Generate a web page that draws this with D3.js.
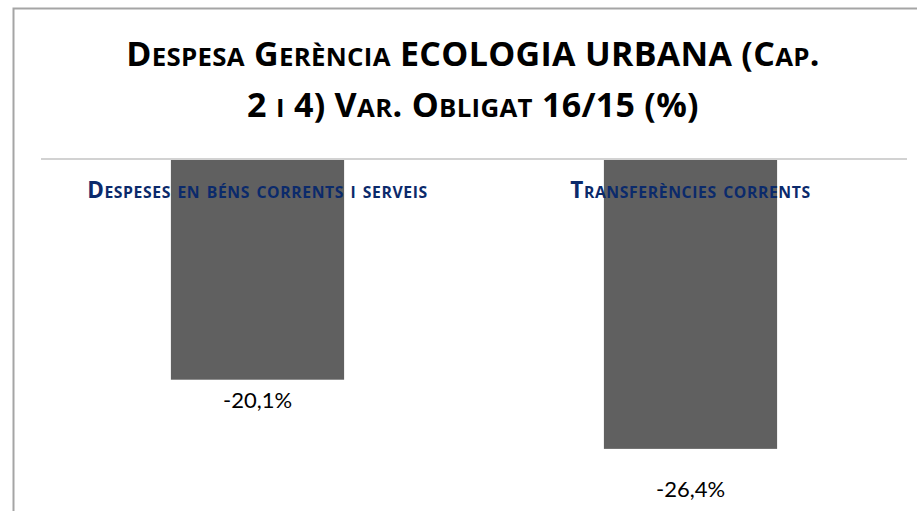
<!DOCTYPE html>
<html>
<head>
<meta charset="utf-8">
<script src="https://cdn.jsdelivr.net/npm/d3@7"></script>
<style>
  html, body { margin: 0; padding: 0; background: #ffffff; }
  svg { display: block; }
</style>
</head>
<body>
<svg id="chart" width="917" height="511"></svg>
<script>
// Chart content
const titleLines = [
  "Despesa Gerència ECOLOGIA URBANA (Cap.",
  "2 i 4) Var. Obligat 16/15 (%)"
];
const categories = ["Despeses en béns corrents i serveis", "Transferències corrents"];
const values = [-20.1, -26.4];
const valueLabels = ["-20,1%", "-26,4%"];

const W = 917, H = 511;
const svg = d3.select("#chart");
const FONT = "Lato, 'Open Sans', sans-serif";
const FONT_BOLD = "'Open Sans', Lato, sans-serif";

// Plot area
const plot = { left: 41, right: 907, top: 159, bottom: 488.4 };

const x = d3.scaleBand()
  .domain(categories)
  .range([plot.left, plot.right])
  .padding(0);

const y = d3.scaleLinear()
  .domain([0, -30])
  .range([plot.top, plot.bottom]);

const barW = x.bandwidth() * 0.4;

// Writes a string as small caps: capitals and digits at full size,
// lowercase letters as capitals at a reduced size.
function smallCaps(textSel, str, big, ratio) {
  const runs = [];
  for (const ch of str) {
    const small = ch !== ch.toUpperCase();
    const last = runs[runs.length - 1];
    if (last && last.small === small) last.text += ch;
    else runs.push({ small, text: ch });
  }
  runs.forEach(r => {
    textSel.append("tspan")
      .attr("font-size", r.small ? big * ratio : big)
      .text(r.text.toUpperCase());
  });
}

// Chart frame
svg.append("path")
  .attr("d", `M13.5,${H + 5} L13.5,8.5 L${W + 5},8.5`)
  .attr("fill", "none")
  .attr("stroke", "#a5a5a5")
  .attr("stroke-width", 2);

// Title
const titleY = [66, 117];
titleLines.forEach((line, i) => {
  const t = svg.append("text")
    .attr("x", 473)
    .attr("y", titleY[i])
    .attr("text-anchor", "middle")
    .attr("font-family", FONT_BOLD)
    .attr("font-weight", "bold")
    .attr("letter-spacing", 0.3)
    .attr("fill", "#000000");
  smallCaps(t, line, 34, 0.76);
});

// Bars
svg.append("g")
  .selectAll("rect")
  .data(values)
  .join("rect")
  .attr("x", (d, i) => x(categories[i]) + (x.bandwidth() - barW) / 2)
  .attr("y", d => y(0) + 1)
  .attr("width", barW)
  .attr("height", d => y(d) - y(0) - 1)
  .attr("fill", "#606060");

// Zero line
svg.append("line")
  .attr("x1", plot.left)
  .attr("x2", plot.right)
  .attr("y1", y(0))
  .attr("y2", y(0))
  .attr("stroke", "#a6a6a6")
  .attr("stroke-width", 1.2);

// Category labels just under the zero line
categories.forEach(c => {
  const t = svg.append("text")
    .attr("x", x(c) + x.bandwidth() / 2)
    .attr("y", y(0) + 39)
    .attr("text-anchor", "middle")
    .attr("font-family", FONT_BOLD)
    .attr("font-weight", "bold")
    .attr("letter-spacing", 0.6)
    .attr("fill", "#0b2a6b");
  smallCaps(t, c, 22.5, 0.7);
});

// Value labels below each bar
const labelGap = [28, 48];
svg.append("g")
  .selectAll("text")
  .data(values)
  .join("text")
  .attr("x", (d, i) => x(categories[i]) + x.bandwidth() / 2)
  .attr("y", (d, i) => y(d) + labelGap[i])
  .attr("text-anchor", "middle")
  .attr("font-family", FONT)
  .attr("font-size", 22)
  .attr("fill", "#000000")
  .text((d, i) => valueLabels[i]);
</script>
</body>
</html>
